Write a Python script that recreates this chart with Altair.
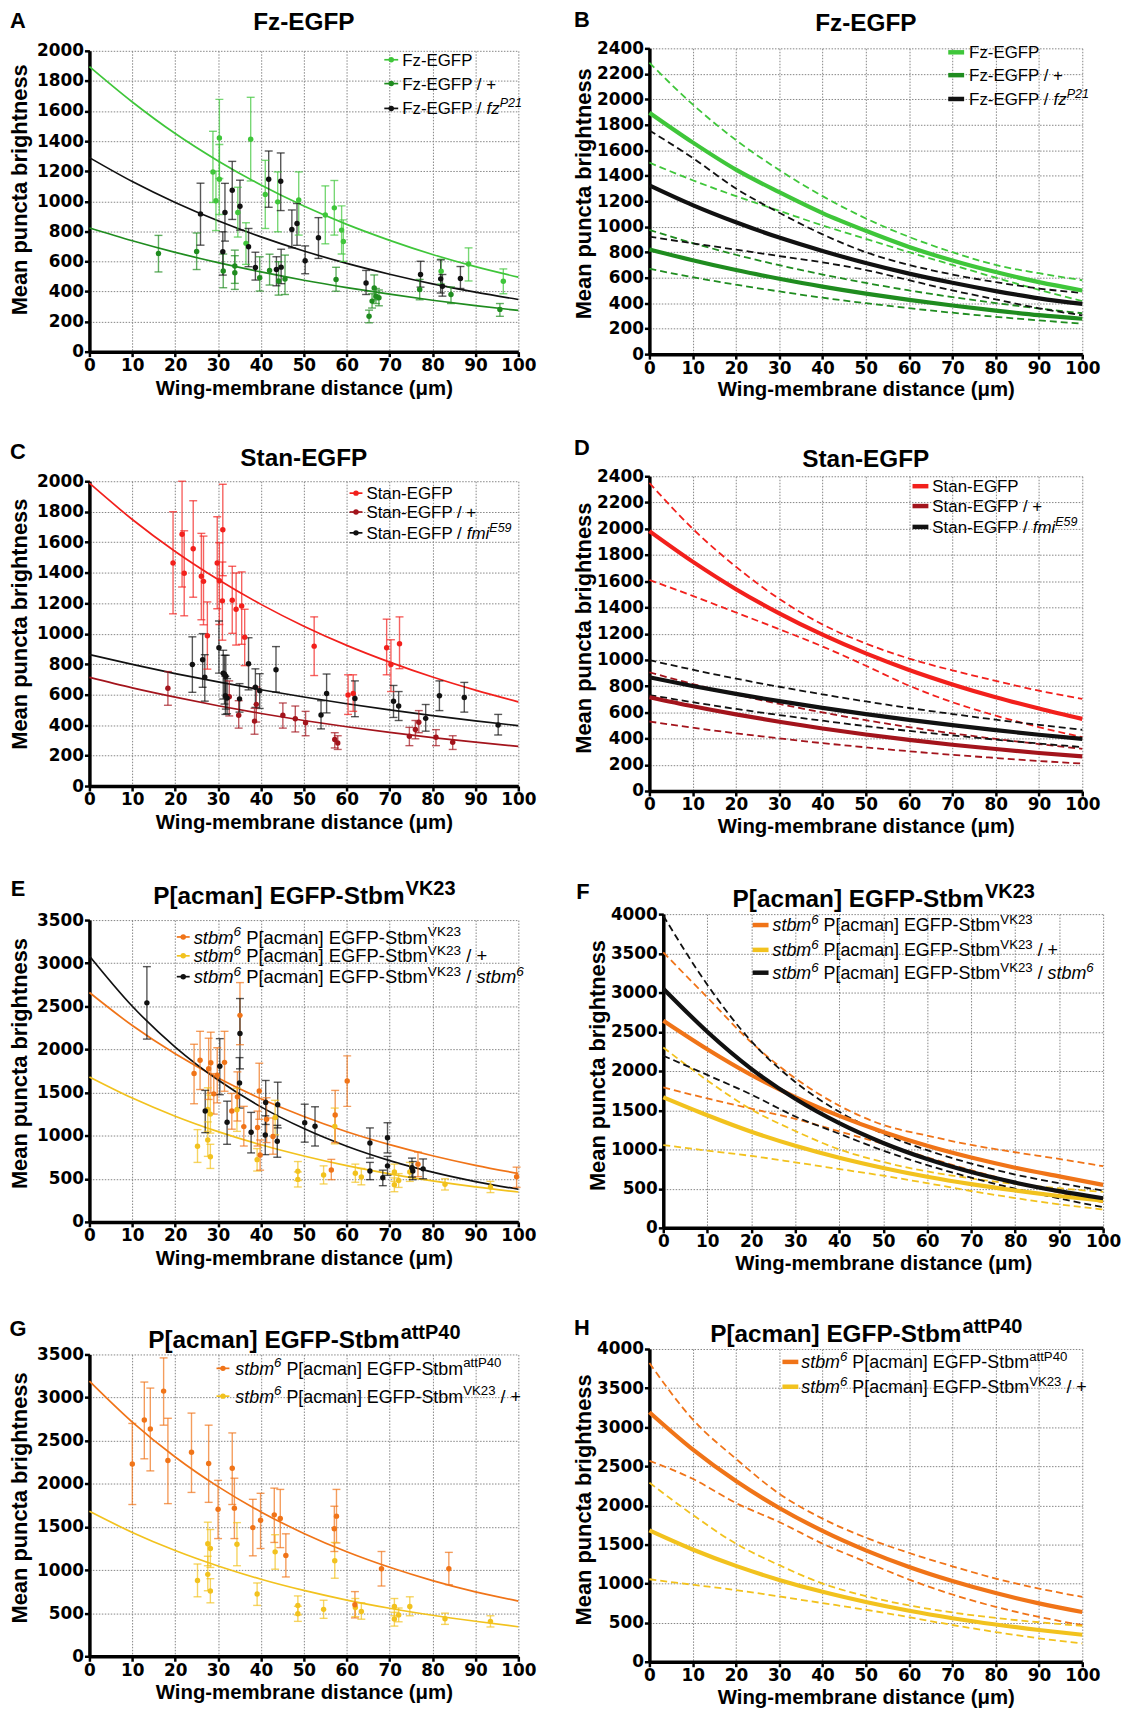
import altair as alt
import pandas as pd

# ---------------------------------------------------------------- data
X10 = [0, 10, 20, 30, 40, 50, 60, 70, 80, 90, 100]

# Panel A fitted curves (read every 10 um)
A_FZ = [1895, 1660, 1450, 1268, 1108, 968, 846, 740, 646, 565, 495]
A_FZP = [822, 737, 660, 592, 530, 475, 426, 382, 342, 306, 274]
A_FZM = [1290, 1131, 992, 870, 763, 669, 587, 515, 451, 396, 347]

# Panel A points: Fz-EGFP
FZ_X = [28.8, 29.5, 30.3, 30.3, 34.6, 36.5, 37.6, 41.0, 43.9, 48.8, 55.0, 57.1, 58.8, 59.2, 82.0, 88.4, 96.5]
FZ_Y = [1195, 1003, 1421, 1146, 925, 720, 1412, 1045, 996, 1009, 908, 956, 808, 733, 535, 583, 468]
FZ_LO = [992, 805, 1151, 912, 762, 580, 1135, 819, 797, 775, 717, 775, 649, 600, 450, 470, 385]
FZ_HI = [1465, 1200, 1677, 1377, 1093, 857, 1691, 1272, 1195, 1195, 1102, 1138, 969, 876, 615, 690, 550]
# Fz-EGFP / +
FZP_X = [16.1, 25.0, 31.2, 33.9, 33.9, 39.7, 42.0, 44.1, 45.6, 57.5, 65.2, 65.9, 66.4, 66.8, 67.5, 77.0, 84.3, 95.7]
FZP_Y = [652, 666, 536, 569, 525, 492, 540, 470, 483, 480, 236, 336, 424, 369, 358, 413, 380, 281]
FZP_LO = [530, 546, 425, 454, 414, 403, 443, 376, 380, 402, 192, 290, 345, 320, 305, 345, 320, 235]
FZP_HI = [773, 789, 649, 675, 638, 631, 648, 598, 642, 561, 276, 385, 510, 420, 410, 480, 430, 320]
# Fz-EGFP / fzP21
FZM_X = [25.9, 31.1, 31.6, 33.3, 35.1, 37.1, 38.7, 41.8, 44.6, 43.6, 44.7, 47.2, 48.4, 50.3, 53.4, 64.5, 77.2, 81.9, 82.3, 86.5]
FZM_Y = [916, 664, 925, 1073, 967, 697, 560, 1146, 1133, 547, 562, 812, 852, 604, 757, 456, 513, 484, 435, 486]
FZM_LO = [708, 509, 735, 879, 808, 565, 476, 960, 938, 438, 452, 690, 707, 518, 620, 380, 429, 390, 369, 420]
FZM_HI = [1120, 797, 1119, 1265, 1140, 819, 661, 1334, 1321, 631, 681, 942, 985, 703, 891, 540, 601, 610, 513, 566]

# Panel B curves
B_FZ = [1895, 1662, 1448, 1271, 1107, 968, 841, 735, 644, 565, 500]
B_FZ_HI = [2287, 1960, 1680, 1445, 1240, 1065, 920, 800, 700, 635, 580]
B_FZ_LO = [1503, 1365, 1240, 1125, 1010, 905, 800, 700, 600, 505, 417]
B_FZP = [822, 737, 660, 592, 530, 475, 426, 382, 342, 306, 278]
B_FZP_HI = [975, 872, 780, 698, 625, 559, 500, 448, 401, 358, 321]
B_FZP_LO = [670, 604, 545, 492, 443, 400, 361, 325, 293, 265, 239]
B_FZM = [1325, 1170, 1035, 915, 810, 715, 632, 560, 495, 438, 395]
B_FZM_HI = [1756, 1540, 1300, 1110, 940, 800, 700, 625, 565, 515, 480]
B_FZM_LO = [922, 870, 820, 770, 720, 660, 580, 500, 430, 360, 305]

# Panel C fitted curves
C_ST = [1987, 1749, 1539, 1355, 1192, 1049, 923, 813, 715, 629, 552]
C_STP = [713, 644, 583, 527, 476, 430, 389, 352, 318, 288, 260]
C_STM = [863, 798, 738, 683, 632, 584, 540, 500, 462, 428, 396]

# Panel C points: Stan-EGFP
ST_X = [19.5, 21.6, 22.1, 24.2, 26.1, 26.6, 27.5, 29.8, 30.3, 31.1, 31.0, 33.3, 34.2, 35.5, 36.2, 52.4, 60.3, 61.5, 69.3, 70.3, 72.3]
ST_Y = [1464, 1652, 1396, 1557, 1376, 1343, 986, 1464, 1347, 1682, 1215, 1219, 1160, 1182, 977, 918, 598, 607, 907, 797, 934]
ST_LO = [1130, 1306, 1117, 1239, 1091, 1058, 767, 1163, 1060, 1380, 957, 1002, 925, 930, 790, 725, 470, 490, 730, 620, 770]
ST_HI = [1800, 2000, 1675, 1872, 1658, 1640, 1208, 1767, 1596, 1980, 1470, 1442, 1398, 1405, 1160, 1110, 730, 730, 1095, 960, 1110]
# Stan-EGFP / +
STP_X = [18.3, 32.6, 34.8, 38.5, 38.9, 45.1, 48.0, 50.4, 57.2, 57.9, 74.6, 76.0, 76.8, 80.8, 84.7]
STP_Y = [642, 586, 464, 426, 536, 464, 442, 415, 305, 283, 327, 371, 419, 320, 287]
STP_LO = [530, 460, 380, 340, 420, 380, 355, 330, 250, 240, 265, 310, 350, 265, 240]
STP_HI = [751, 690, 560, 510, 650, 545, 525, 490, 350, 330, 385, 430, 495, 370, 330]
# Stan-EGFP / fmiE59
STM_X = [24.0, 26.4, 26.9, 30.2, 31.2, 31.5, 31.8, 31.7, 32.1, 35.0, 37.1, 38.7, 39.7, 43.5, 54.0, 55.3, 61.9, 70.9, 72.1, 78.4, 81.6, 87.4, 95.3]
STM_Y = [798, 829, 714, 907, 740, 734, 720, 592, 577, 572, 802, 648, 626, 763, 466, 607, 574, 556, 525, 444, 592, 581, 400]
STM_LO = [615, 648, 557, 741, 571, 538, 505, 470, 474, 485, 631, 516, 509, 617, 375, 480, 455, 450, 430, 360, 495, 485, 335]
STM_HI = [979, 1000, 862, 1083, 891, 858, 858, 720, 705, 672, 973, 769, 737, 915, 560, 735, 690, 660, 620, 535, 690, 680, 470]

# Panel D curves
D_ST = [1982, 1749, 1539, 1355, 1192, 1049, 923, 813, 715, 629, 550]
D_ST_HI = [2349, 2000, 1710, 1465, 1270, 1125, 1010, 920, 840, 765, 702]
D_ST_LO = [1609, 1488, 1361, 1234, 1102, 955, 803, 677, 575, 487, 411]
D_STP = [715, 646, 584, 528, 477, 431, 390, 353, 320, 290, 264]
D_STP_HI = [905, 816, 736, 664, 599, 540, 487, 440, 397, 358, 322]
D_STP_LO = [530, 483, 440, 401, 365, 333, 303, 276, 252, 229, 209]
D_STM = [867, 801, 741, 685, 634, 586, 542, 502, 464, 429, 398]
D_STM_HI = [998, 925, 857, 795, 737, 683, 633, 587, 544, 504, 467]
D_STM_LO = [732, 677, 626, 579, 536, 495, 458, 424, 392, 362, 335]

# Panel E fitted curves
E_OR = [2660, 2277, 1949, 1668, 1428, 1222, 1046, 896, 767, 656, 562]
E_BK = [3084, 2501, 2028, 1645, 1334, 1082, 877, 711, 577, 468, 379]
E_YE = [1681, 1436, 1226, 1047, 894, 764, 652, 557, 476, 406, 347]

# Panel E points: stbm6 P[acman] EGFP-StbmVK23
OR_X = [24.4, 25.8, 27.8, 28.3, 29.0, 29.8, 31.5, 33.2, 34.5, 35.1, 36.0, 39.6, 39.2, 39.8, 41.3, 42.8, 56.4, 57.3, 60.1, 76.6, 99.6]
OR_Y = [1720, 1875, 1775, 1845, 1485, 1700, 1850, 1285, 1450, 2395, 1105, 1518, 1095, 775, 1190, 990, 601, 1240, 1635, 670, 525]
OR_LO = [1370, 1535, 1420, 1495, 1250, 1380, 1515, 1075, 1170, 2055, 880, 1190, 880, 600, 920, 785, 490, 920, 1340, 525, 400]
OR_HI = [2060, 2210, 2130, 2200, 1720, 2020, 2210, 1490, 1740, 2775, 1340, 1840, 1285, 950, 1440, 1205, 725, 1525, 1925, 810, 635]
# stbm6 P[acman] EGFP-StbmVK23 / +  (also in panel G)
YE_X = [25.2, 27.6, 28.2, 27.6, 28.2, 34.4, 39.1, 43.3, 48.6, 48.6, 54.6, 57.2, 62.0, 63.4, 71.1, 71.1, 72.1, 74.7, 82.9, 93.5]
YE_Y = [878, 1304, 1250, 950, 756, 1300, 722, 1211, 588, 493, 544, 1108, 565, 520, 578, 432, 480, 578, 436, 405]
YE_LO = [690, 1050, 1030, 760, 620, 1050, 590, 1010, 480, 405, 440, 905, 460, 430, 470, 350, 400, 470, 370, 340]
YE_HI = [1070, 1555, 1470, 1160, 900, 1550, 850, 1410, 700, 580, 650, 1320, 670, 620, 670, 510, 560, 690, 500, 470]
# stbm6 P[acman] EGFP-StbmVK23 / stbm6
BK_X = [13.4, 27.0, 30.4, 32.1, 35.0, 35.1, 37.7, 41.0, 41.1, 43.8, 43.9, 50.2, 52.6, 65.4, 65.4, 68.4, 69.5, 69.5, 75.2, 75.4, 77.8]
BK_Y = [2540, 1285, 1805, 1155, 1612, 2185, 1040, 1008, 1385, 935, 1360, 1150, 1110, 915, 590, 513, 975, 650, 628, 590, 615]
BK_LO = [2120, 1035, 1475, 900, 1320, 1775, 800, 780, 1130, 750, 1090, 925, 880, 740, 490, 420, 800, 540, 520, 490, 500]
BK_HI = [2960, 1525, 2125, 1400, 1905, 2590, 1270, 1230, 1640, 1120, 1620, 1365, 1335, 1090, 690, 600, 1150, 760, 740, 700, 730]

# Panel F curves
F_OR = [2641, 2277, 1949, 1668, 1428, 1222, 1046, 896, 767, 656, 548]
F_OR_HI = [3512, 2938, 2365, 1907, 1558, 1312, 1176, 1057, 964, 879, 786]
F_OR_LO = [1790, 1650, 1520, 1390, 1230, 1070, 900, 735, 585, 450, 327]
F_BK = [3050, 2501, 2028, 1645, 1334, 1082, 877, 711, 577, 468, 378]
F_BK_HI = [3980, 3100, 2380, 1860, 1480, 1200, 990, 820, 680, 570, 476]
F_BK_LO = [2195, 1950, 1700, 1420, 1200, 985, 800, 640, 500, 375, 263]
F_YE = [1665, 1436, 1226, 1047, 894, 764, 652, 557, 476, 406, 347]
F_YE_HI = [2300, 1880, 1510, 1235, 1000, 840, 720, 630, 560, 505, 458]
F_YE_LO = [1055, 985, 917, 835, 750, 665, 570, 470, 380, 300, 234]

# Panel G fitted curves
G_OR = [3191, 2716, 2311, 1967, 1674, 1425, 1212, 1032, 878, 747, 640]
G_YE = [1681, 1436, 1226, 1047, 894, 764, 652, 557, 476, 406, 342]

# Panel G points: stbm6 P[acman] EGFP-StbmattP40
AT_X = [10.0, 12.8, 14.2, 17.3, 18.3, 23.8, 27.8, 30.0, 33.3, 33.8, 38.1, 39.9, 43.1, 44.5, 45.8, 57.1, 57.6, 61.9, 68.1, 83.8]
AT_Y = [2230, 2740, 2635, 3075, 2270, 2365, 2235, 1705, 2180, 1718, 1492, 1578, 1640, 1598, 1168, 1478, 1625, 598, 1015, 1015]
AT_LO = [1760, 2290, 2150, 2680, 1770, 1900, 1785, 1365, 1760, 1365, 1165, 1250, 1320, 1260, 920, 1215, 1315, 445, 815, 830]
AT_HI = [2700, 3180, 3110, 3460, 2760, 2820, 2680, 2040, 2590, 2065, 1820, 1890, 1950, 1935, 1420, 1740, 1935, 750, 1215, 1205]

# Panel H curves
H_OR = [3191, 2716, 2311, 1967, 1674, 1425, 1212, 1032, 878, 747, 636]
H_OR_HI = [3820, 3100, 2596, 2149, 1830, 1587, 1391, 1221, 1064, 936, 830]
H_OR_LO = [2570, 2340, 2030, 1787, 1511, 1277, 1051, 860, 702, 574, 468]
H_YE = [1680, 1436, 1226, 1047, 894, 764, 652, 557, 476, 406, 345]
H_YE_HI = [2290, 1880, 1510, 1235, 1000, 840, 720, 630, 560, 505, 458]
H_YE_LO = [1055, 985, 917, 835, 750, 665, 570, 470, 380, 300, 234]

# ---------------------------------------------------------------- style
LGREEN = "#3fc63a"
DGREEN = "#1f8c1f"
BLACK = "#111111"
RED = "#f2201c"
DRED = "#a3141c"
ORANGE = "#f07418"
YELLOW = "#f2c21e"

SANS = "Liberation Sans, Arial, Helvetica, sans-serif"
TICKF = "DejaVu Sans, Verdana, sans-serif"
XTITLE = "Wing-membrane distance (\u03bcm)"
YTITLE = "Mean puncta brightness"

ONE = pd.DataFrame({"k": [0]})

AR = {' ': 278, '/': 278, '+': 584, '-': 333, '[': 278, ']': 278, 'E': 667, 'F': 611,
      'G': 778, 'K': 667, 'P': 667, 'S': 667, 'V': 667, 'a': 556, 'b': 556, 'c': 500,
      'f': 278, 'i': 222, 'm': 833, 'n': 556, 's': 500, 't': 278, 'z': 500}
AB = {' ': 278, '-': 333, '[': 333, ']': 333, 'E': 667, 'F': 611, 'G': 778, 'K': 722,
      'P': 667, 'S': 667, 'V': 667, 'a': 556, 'b': 611, 'c': 556, 'm': 889, 'n': 611,
      't': 333, 'z': 500}


def tw(s, size, bold=False):
    tbl = AB if bold else AR
    return sum(tbl.get(ch, 556) for ch in s) * size / 1000.0


def txt(t, px, py, size, color="#000", weight="normal", style="normal",
        align="left", baseline="alphabetic", font=SANS):
    return alt.Chart(ONE).mark_text(
        align=align, baseline=baseline, font=font, fontSize=size,
        fontWeight=weight, fontStyle=style, color=color
    ).encode(x=alt.value(px), y=alt.value(py), text=alt.value(t))


def line_df(curves):
    rows = []
    for i, (vals, col) in enumerate(curves):
        for xv, yv in zip(X10, vals):
            rows.append({"x": xv, "y": yv, "c": col, "k": i})
    return pd.DataFrame(rows)


def pts_df(groups):
    rows = []
    for xs, ys, lo, hi, col in groups:
        for a, b, c, d in zip(xs, ys, lo, hi):
            rows.append({"x": a, "y": b, "lo": c, "hi": d, "c": col})
    return pd.DataFrame(rows)


def axes(h, ymax, ystep, ytp, xtp, ytitle_dy):
    common = dict(grid=True, gridColor="#858585", gridDash=[1.5, 1.5], gridWidth=1,
                  domainColor="#000", domainWidth=3.5, tickColor="#000", tickWidth=2.5,
                  tickSize=5, labelFont=TICKF, labelFontWeight="bold", labelFontSize=17,
                  labelColor="#000", labelPadding=1, labelFlush=False, labelOverlap=False,
                  format="d", titleFont=SANS, titleFontWeight="bold", titleColor="#000")
    xax = alt.Axis(values=list(range(0, 101, 10)), title=XTITLE, titlePadding=xtp,
                   titleFontSize=20.5, **common)
    yax = alt.Axis(values=list(range(0, ymax + 1, ystep)), title=YTITLE, titlePadding=ytp,
                   titleFontSize=22, titleY=h / 2 + ytitle_dy, **common)
    xs = alt.Scale(domain=[0, 100], nice=False, zero=False)
    ys = alt.Scale(domain=[0, ymax], nice=False, zero=False)
    return xs, xax, ys, yax


SUP_K = 0.74


def segs_layers(segs, x0, base, size):
    out = []
    x = x0
    for t, kind in segs:
        if kind in ("n", "i"):
            fs, dy = size, 0
        else:
            fs, dy = size * SUP_K, -size * 0.42
        style = "italic" if kind in ("i", "isup") else "normal"
        lead = len(t) - len(t.lstrip(" "))
        x += tw(" " * lead, fs)
        core = t.strip(" ")
        out.append(txt(core, x, base + dy, fs, style=style))
        x += tw(t.lstrip(" "), fs)
    return out


def panel(w, h, ymax, ystep, ytp, xtp, thin=None, solid=None, dashed=None, pts=None,
          letter="A", lpos=(0, 0), title=("", None), tbase=-15, legend=None,
          leg_x=(0, 0, 0), leg_y=(), leg_kind="thin", leg_size=17, extent=None,
          ytitle_dy=-10):
    xs, xax, ys, yax = axes(h, ymax, ystep, ytp, xtp, ytitle_dy)
    X = alt.X("x:Q", scale=xs, axis=xax)
    Y = alt.Y("y:Q", scale=ys, axis=yax)
    col = alt.Color("c:N", scale=None)
    layers = []
    if thin:
        layers.append(alt.Chart(line_df(thin)).mark_line(interpolate="monotone", strokeWidth=1.7)
                      .encode(x=X, y=Y, detail="k:N", color=col))
    if dashed:
        layers.append(alt.Chart(line_df(dashed)).mark_line(interpolate="monotone", strokeWidth=1.8,
                                                             strokeDash=[7, 4])
                      .encode(x=X, y=Y, detail="k:N", color=col))
    if solid:
        layers.append(alt.Chart(line_df(solid)).mark_line(interpolate="monotone", strokeWidth=4.2)
                      .encode(x=X, y=Y, detail="k:N", color=col))
    if pts:
        d = pts_df(pts)
        ylo = alt.Y("lo:Q", scale=ys, axis=yax)
        yhi = alt.Y("hi:Q", scale=ys, axis=yax)
        layers.append(alt.Chart(d).mark_rule(strokeWidth=1.4, opacity=0.7)
                      .encode(x=X, y=ylo, y2=alt.Y2("hi:Q"), color=col))
        layers.append(alt.Chart(d).mark_tick(orient="horizontal", size=8, thickness=1.4, opacity=0.7)
                      .encode(x=X, y=ylo, color=col))
        layers.append(alt.Chart(d).mark_tick(orient="horizontal", size=8, thickness=1.4, opacity=0.7)
                      .encode(x=X, y=yhi, color=col))
        layers.append(alt.Chart(d).mark_circle(size=30, opacity=1).encode(x=X, y=Y, color=col))
    # invisible extent marker (fixes the layout bounds of the panel)
    if extent is not None:
        ex, ey1, ey2 = extent
        layers.append(alt.Chart(ONE).mark_rule(opacity=0, strokeWidth=1)
                      .encode(x=alt.value(ex), y=alt.value(ey1), y2=alt.value(ey2)))
    # panel letter
    layers.append(txt(letter, lpos[0], lpos[1], 22, weight="bold", align="center", baseline="middle"))
    # title
    main, sup = title
    tsize = 24.5
    ssize = tsize * 0.82
    wm = tw(main, tsize, True)
    ws = tw(sup, ssize, True) if sup else 0
    x0 = w / 2 - (wm + ws) / 2
    layers.append(txt(main, x0, tbase, tsize, weight="bold"))
    if sup:
        layers.append(txt(sup, x0 + wm + 1, tbase - tsize * 0.38, ssize, weight="bold"))
    # legend
    if legend:
        x1, x2, xt = leg_x
        for (segs, color), yy in zip(legend, leg_y):
            if leg_kind == "thin":
                layers.append(alt.Chart(ONE).mark_rule(color=color, strokeWidth=1.7)
                              .encode(x=alt.value(x1), x2=alt.value(x2), y=alt.value(yy)))
                layers.append(alt.Chart(ONE).mark_circle(color=color, size=30, opacity=1)
                              .encode(x=alt.value((x1 + x2) / 2), y=alt.value(yy)))
            else:
                layers.append(alt.Chart(ONE).mark_rule(color=color, strokeWidth=4.5)
                              .encode(x=alt.value(x1), x2=alt.value(x2), y=alt.value(yy)))
            layers.extend(segs_layers(segs, xt, yy + 0.36 * leg_size, leg_size))
    return alt.layer(*layers).properties(width=w, height=h)


LEG_FZ = [([("Fz-EGFP", "n")], LGREEN),
          ([("Fz-EGFP / +", "n")], DGREEN),
          ([("Fz-EGFP / ", "n"), ("fz", "i"), ("P21", "isup")], BLACK)]
LEG_ST = [([("Stan-EGFP", "n")], RED),
          ([("Stan-EGFP / +", "n")], DRED),
          ([("Stan-EGFP / ", "n"), ("fmi", "i"), ("E59", "isup")], BLACK)]
VK = [("stbm", "i"), ("6", "isup"), (" P[acman] EGFP-Stbm", "n"), ("VK23", "sup")]
LEG_VK = [(VK, ORANGE),
          (VK + [(" / +", "n")], YELLOW),
          (VK + [(" / ", "n"), ("stbm", "i"), ("6", "isup")], BLACK)]
LEG_AT = [([("stbm", "i"), ("6", "isup"), (" P[acman] EGFP-Stbm", "n"), ("attP40", "sup")], ORANGE),
          (VK + [(" / +", "n")], YELLOW)]

LEFT_EXT = (-82, 100, 101)

pA = panel(432, 303, 2000, 200, 5, 5,
           thin=[(A_FZ, LGREEN), (A_FZP, DGREEN), (A_FZM, BLACK)],
           pts=[(FZP_X, FZP_Y, FZP_LO, FZP_HI, DGREEN), (FZ_X, FZ_Y, FZ_LO, FZ_HI, LGREEN),
                (FZM_X, FZM_Y, FZM_LO, FZM_HI, BLACK)],
           letter="A", lpos=(-72, -30), title=("Fz-EGFP", None), tbase=-21,
           legend=LEG_FZ, leg_x=(297, 311, 315), leg_y=(9, 33, 58), leg_kind="thin",
           extent=LEFT_EXT, ytitle_dy=-12)

pB = panel(436, 308, 2400, 200, 1, 4,
           dashed=[(B_FZ_HI, LGREEN), (B_FZ_LO, LGREEN), (B_FZP_HI, DGREEN), (B_FZP_LO, DGREEN),
                   (B_FZM_HI, BLACK), (B_FZM_LO, BLACK)],
           solid=[(B_FZ, LGREEN), (B_FZP, DGREEN), (B_FZM, BLACK)],
           letter="B", lpos=(-68, -29), title=("Fz-EGFP", None), tbase=-17,
           legend=LEG_FZ, leg_x=(301, 317, 322), leg_y=(4, 27, 51), leg_kind="thick",
           extent=(444, -55, 308 + 63), ytitle_dy=-8)

pC = panel(432, 307, 2000, 200, 5, 5,
           thin=[(C_ST, RED), (C_STP, DRED), (C_STM, BLACK)],
           pts=[(STP_X, STP_Y, STP_LO, STP_HI, DRED), (ST_X, ST_Y, ST_LO, ST_HI, RED),
                (STM_X, STM_Y, STM_LO, STM_HI, BLACK)],
           letter="C", lpos=(-72, -29), title=("Stan-EGFP", None), tbase=-15,
           legend=LEG_ST, leg_x=(262, 275, 279), leg_y=(12, 31, 52), leg_kind="thin",
           extent=LEFT_EXT, ytitle_dy=-10)

pD = panel(436, 317, 2400, 200, 1, 4,
           dashed=[(D_ST_HI, RED), (D_ST_LO, RED), (D_STP_HI, DRED), (D_STP_LO, DRED),
                   (D_STM_HI, BLACK), (D_STM_LO, BLACK)],
           solid=[(D_ST, RED), (D_STP, DRED), (D_STM, BLACK)],
           letter="D", lpos=(-68, -28), title=("Stan-EGFP", None), tbase=-9,
           legend=LEG_ST, leg_x=(265, 281, 285), leg_y=(10, 30, 51), leg_kind="thick",
           extent=(444, -50, 317 + 64), ytitle_dy=-6)

pE = panel(432, 304, 3500, 500, 5, 5,
           thin=[(E_OR, ORANGE), (E_YE, YELLOW), (E_BK, BLACK)],
           pts=[(YE_X, YE_Y, YE_LO, YE_HI, YELLOW), (OR_X, OR_Y, OR_LO, OR_HI, ORANGE),
                (BK_X, BK_Y, BK_LO, BK_HI, BLACK)],
           letter="E", lpos=(-72, -31), title=("P[acman] EGFP-Stbm", "VK23"), tbase=-16,
           legend=LEG_VK, leg_x=(88, 101, 105), leg_y=(17, 36, 57), leg_kind="thin",
           leg_size=18.5, extent=LEFT_EXT, ytitle_dy=-8)

pF = panel(443, 316, 4000, 500, 1, 4,
           dashed=[(F_OR_HI, ORANGE), (F_OR_LO, ORANGE), (F_YE_HI, YELLOW), (F_YE_LO, YELLOW),
                   (F_BK_HI, BLACK), (F_BK_LO, BLACK)],
           solid=[(F_OR, ORANGE), (F_YE, YELLOW), (F_BK, BLACK)],
           letter="F", lpos=(-81, -22), title=("P[acman] EGFP-Stbm", "VK23"), tbase=-7,
           legend=LEG_VK, leg_x=(90, 106, 110), leg_y=(11, 36, 59), leg_kind="thick",
           leg_size=18, extent=(450, -50, 316 + 62), ytitle_dy=-6)

pG = panel(432, 304, 3500, 500, 5, 5,
           thin=[(G_OR, ORANGE), (G_YE, YELLOW)],
           pts=[(YE_X, YE_Y, YE_LO, YE_HI, YELLOW), (AT_X, AT_Y, AT_LO, AT_HI, ORANGE)],
           letter="G", lpos=(-72, -26), title=("P[acman] EGFP-Stbm", "attP40"), tbase=-6,
           legend=LEG_AT, leg_x=(128, 141, 147), leg_y=(14, 42), leg_kind="thin",
           leg_size=18, extent=LEFT_EXT, ytitle_dy=-8)

pH = panel(436, 315, 4000, 500, 1, 4,
           dashed=[(H_OR_HI, ORANGE), (H_OR_LO, ORANGE), (H_YE_HI, YELLOW), (H_YE_LO, YELLOW)],
           solid=[(H_OR, ORANGE), (H_YE, YELLOW)],
           letter="H", lpos=(-68, -21), title=("P[acman] EGFP-Stbm", "attP40"), tbase=-7,
           legend=LEG_AT, leg_x=(134, 150, 153), leg_y=(13, 38), leg_kind="thick",
           leg_size=18, extent=(444, -50, 315 + 40), ytitle_dy=-6)

row1 = alt.hconcat(pA, pB, spacing=132, center=True, bounds="flush")
row2 = alt.hconcat(pC, pD, spacing=132, center=True, bounds="flush")
row3 = alt.hconcat(pE, pF, spacing=146, center=True, bounds="flush")
row4 = alt.hconcat(pG, pH, spacing=132, center=True, bounds="flush")

chart = alt.vconcat(row1, row2, row3, row4, spacing=10).properties(
    padding={"left": 0, "top": -20.5, "right": 0, "bottom": 0}
).configure_view(stroke=None)

chart.save("out.html", embed_options={"renderer": "svg", "actions": False})
